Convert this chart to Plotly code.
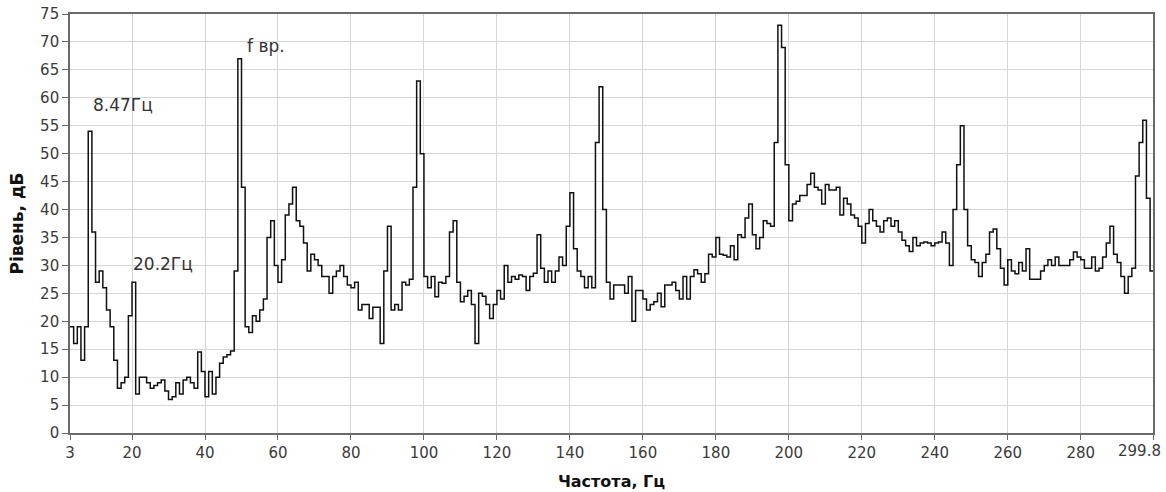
import plotly.graph_objects as go

# Spectrum level (dB) per 1 Hz bin, starting at 3 Hz
freq_start = 3
freq_end = 299.8
levels = [
    19, 16, 19, 13, 19, 54, 36,                       # 3-9
    27, 29, 26, 22, 19, 13, 8, 9, 10, 21,             # 10-19
    27, 7, 10, 10, 9, 8, 8.5, 9, 9.5, 7.5,            # 20-29
    6, 6.5, 9, 7, 9.5, 10, 9, 8, 14.5, 11,            # 30-39
    6.5, 11, 7, 10, 12.5, 13.6, 14, 14.7, 29, 67,     # 40-49
    44, 19, 18, 21, 20, 22, 24, 35, 38, 30,           # 50-59
    27, 31, 39, 41, 44, 38, 37, 34, 29, 32,           # 60-69
    31, 30, 28, 28, 25, 28, 29, 30, 28, 26.5,         # 70-79
    26, 27, 22, 23, 23, 20.5, 22.5, 22.5, 16, 29,     # 80-89
    37, 22, 23, 22, 27, 26.5, 27.5, 44, 63, 50,       # 90-99
    28, 26, 28, 24.4, 27, 26.8, 28, 36, 38, 27,       # 100-109
    23.5, 24.5, 25.5, 23, 16, 25, 24.5, 23, 20.5, 23, # 110-119
    25.5, 24, 30, 27, 28, 27.5, 28.3, 28, 25.5, 28,   # 120-129
    28.6, 35.5, 29.5, 27, 29, 27, 29, 31.5, 30, 37,   # 130-139
    43, 33, 29, 28, 26, 28, 26, 52, 62, 40,           # 140-149
    27, 24, 26.5, 26.5, 26.5, 25, 28, 20, 25.5, 25.5, # 150-159
    24, 22, 23, 23.5, 25, 22.6, 26.5, 26.5, 27, 25.5, # 160-169
    24, 28, 24, 28, 29.2, 28.5, 27, 28.5, 32, 31.5,   # 170-179
    35, 32, 31.8, 31.5, 33.5, 31, 35.5, 35, 38.5, 41, # 180-189
    35.5, 33, 35, 38, 37.5, 37, 52, 73, 69, 48,       # 190-199
    38, 41, 41.5, 42.5, 42.5, 44.5, 46.5, 44, 43.5, 41, # 200-209
    44.5, 43.5, 43.5, 44, 39, 42, 41, 39, 38.5, 37,   # 210-219
    34, 37.5, 40, 38, 37, 36, 38, 38.5, 37, 38,       # 220-229
    36, 34.5, 33.5, 32.5, 35, 33.5, 34, 34.2, 34, 33.5, # 230-239
    34, 34.2, 36, 34, 30, 40, 48, 55, 40, 33.5,       # 240-249
    31, 30.5, 28, 30.5, 32, 36, 36.5, 33, 29.5, 26.5, # 250-259
    31, 29, 28.5, 30.5, 29, 33, 27.5, 27.5, 27.5, 29, # 260-269
    30, 31, 30, 31.5, 30, 30, 30, 31, 32.4, 31.5,     # 270-279
    31, 29.5, 29.5, 31.5, 29, 29.5, 31.5, 34, 37, 32, # 280-289
    30.5, 28, 25, 28, 29.5, 46, 52, 56, 42, 29,       # 290-299
]

x_tick_values = [3, 20, 40, 60, 80, 100, 120, 140, 160, 180, 200, 220, 240, 260, 280, 299.8]
x_tick_text = ["3", "20", "40", "60", "80", "100", "120", "140", "160", "180",
               "200", "220", "240", "260", "280", ""]
last_tick_label = "299.8"
y_tick_values = list(range(0, 80, 5))

ann_text = ["8.47Гц", "f вр.", "20.2Гц"]
ann_x = [8.8, 50.9, 19.8]
ann_y = [58.7, 69.2, 30.2]

freq = [freq_start + i for i in range(len(levels))] + [freq_end]
vals = levels + [levels[-1]]

font_family = "DejaVu Sans, Verdana, sans-serif"
tick_font = dict(family=font_family, size=15, color="#3a3a3a")

fig = go.Figure()
fig.add_trace(go.Scatter(
    x=freq, y=vals, mode="lines",
    line=dict(shape="hv", color="#111111", width=1.5),
    showlegend=False, hoverinfo="x+y",
))

for t, ax, ay in zip(ann_text, ann_x, ann_y):
    fig.add_annotation(x=ax, y=ay, text=t, showarrow=False, xanchor="left",
                       yanchor="middle",
                       font=dict(family=font_family, size=17, color="#333333"))

# last tick label, right-aligned just inside the page like the reference
fig.add_annotation(x=freq_end, y=0, xref="x", yref="paper", text=last_tick_label,
                   showarrow=False, xanchor="right", yanchor="top",
                   xshift=10, yshift=-7, font=tick_font)

fig.update_layout(
    width=1166, height=492,
    margin=dict(l=70, r=13, t=14, b=59),
    paper_bgcolor="white", plot_bgcolor="white",
    font=dict(family=font_family, size=15, color="#333333"),
    xaxis=dict(
        range=[freq_start, freq_end], automargin=False,
        tickmode="array", tickvals=x_tick_values, ticktext=x_tick_text,
        showgrid=True, gridcolor="#d6d6d6", gridwidth=1.3,
        showline=True, linecolor="#6a6a6a", linewidth=1.6, mirror=True,
        ticks="outside", ticklen=5, tickcolor="#6a6a6a", tickwidth=1.3,
        zeroline=False, tickfont=tick_font,
        title=dict(text="<b>Частота, Гц</b>", standoff=15,
                   font=dict(family=font_family, size=16, color="#111111")),
    ),
    yaxis=dict(
        range=[0, 75], automargin=False,
        tickmode="array", tickvals=y_tick_values,
        showgrid=True, gridcolor="#d6d6d6", gridwidth=1.3,
        showline=True, linecolor="#6a6a6a", linewidth=1.6, mirror=True,
        ticks="outside", ticklen=6, tickcolor="#6a6a6a", tickwidth=1.3,
        zeroline=False, tickfont=tick_font,
        title=dict(text="<b>Рівень, дБ</b>", standoff=12,
                   font=dict(family=font_family, size=17, color="#111111")),
    ),
)

fig.write_html(
    "out.html",
    config={"displayModeBar": False},
    post_script="document.body.style.margin='0';document.body.style.overflow='hidden';",
)
